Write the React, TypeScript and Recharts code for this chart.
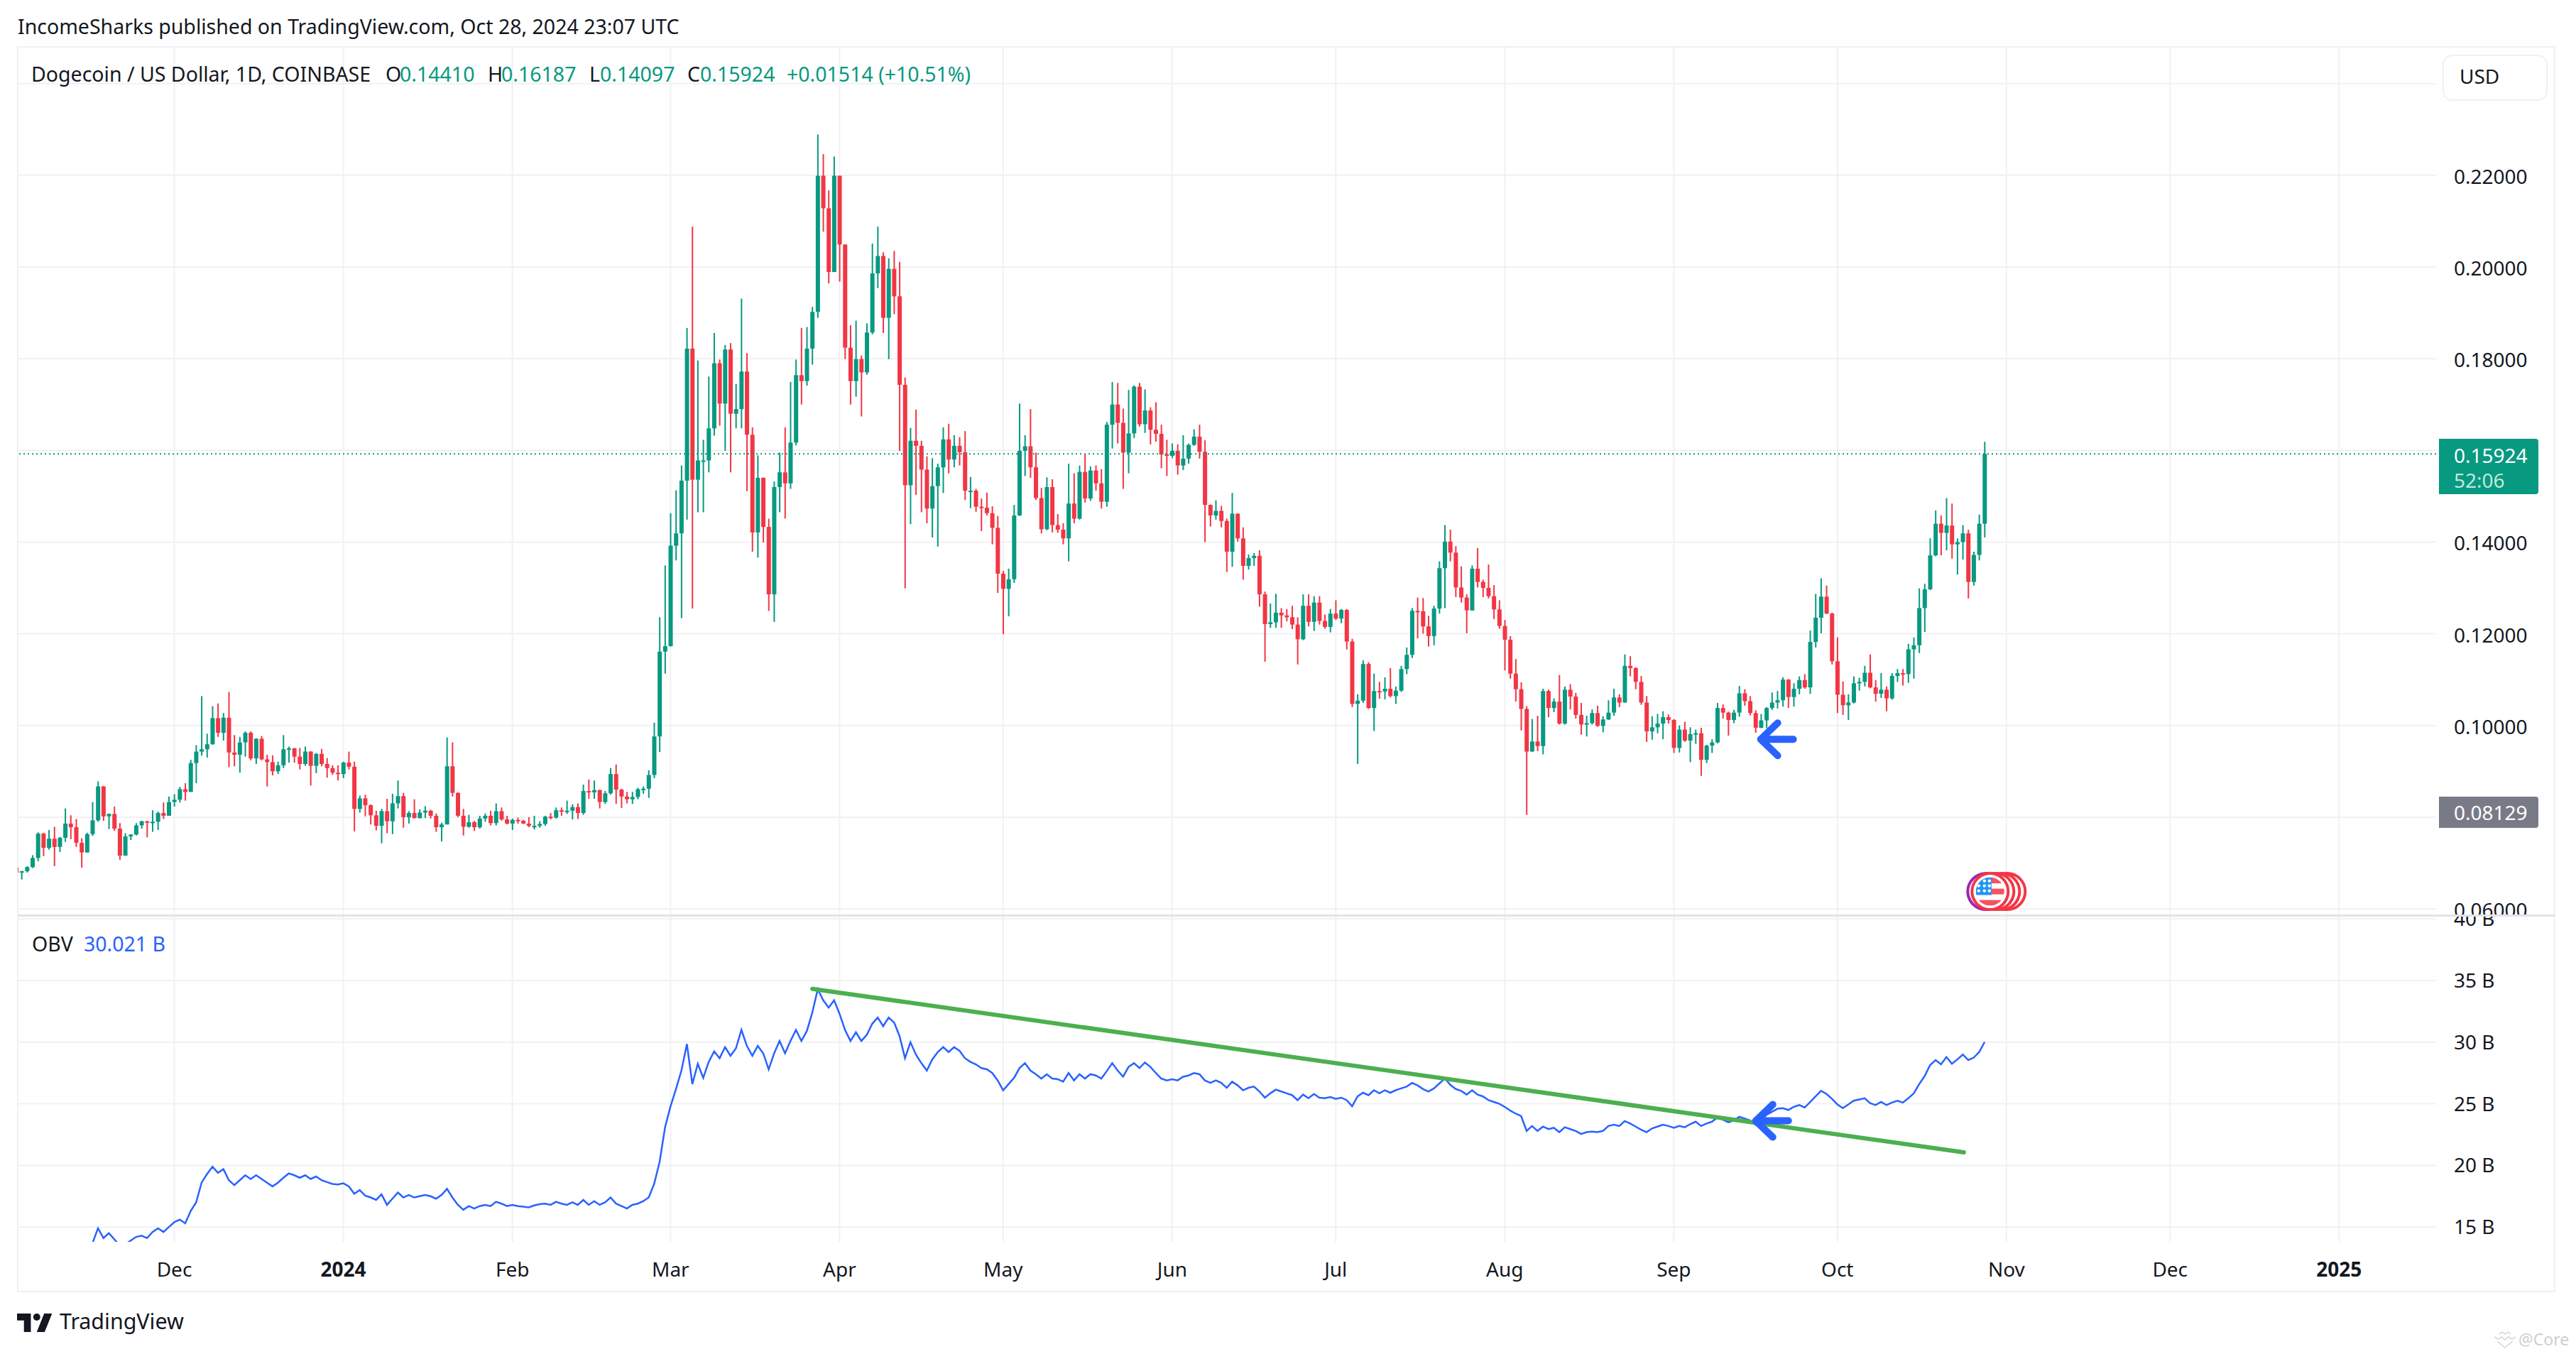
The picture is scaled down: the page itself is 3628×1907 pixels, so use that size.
import {
  Bar,
  CartesianGrid,
  ComposedChart,
  Line,
  ReferenceDot,
  ReferenceLine,
  XAxis,
  YAxis,
} from "recharts";

const FONT = "'Noto Sans', sans-serif";
const UP = "#089981";
const DOWN = "#F23645";
const BLUE = "#2962FF";
const GRID = "#f1f1f3";
const INK = "#131722";

// daily candles, Nov 2 2023 to Oct 28 2024, open is the previous close
const firstOpen = 0.069;
const closes = [
  .0679,
  .0682,.0691,.0711,.0764,.0733,.0753,.0735,.0755,.0786,.0778,
  .0744,.0723,.0763,.0793,.0867,.0802,.0807,.0775,.0716,.0758,
  .0762,.0782,.0791,.0789,.0790,.0809,.0803,.0833,.0838,.0861,
  .0855,.0918,.0943,.0948,.0959,.1016,.0984,.1017,.0941,.0936,
  .0963,.0984,.0928,.0971,.0926,.0920,.0900,.0913,.0948,.0950,
  .0932,.0916,.0943,.0912,.0938,.0916,.0907,.0897,.0894,.0919,
  .0910,.0818,.0841,.0826,.0804,.0781,.0813,.0791,.0830,.0846,
  .0800,.0809,.0798,.0810,.0814,.0803,.0778,.0784,.0911,.0853,
  .0803,.0779,.0789,.0778,.0797,.0803,.0787,.0813,.0795,.0786,
  .0794,.0792,.0786,.0781,.0781,.0785,.0801,.0799,.0815,.0814,
  .0814,.0822,.0809,.0857,.0854,.0859,.0833,.0852,.0894,.0860,
  .0845,.0839,.0844,.0861,.0862,.0892,.0976,.1161,.1173,.1392,
  .1419,.1534,.1822,.1536,.1578,.1578,.1648,.1790,.1702,.1820,
  .1680,.1690,.1772,.1634,.1421,.1540,.1433,.1286,.1520,.1552,
  .1528,.1617,.1764,.1751,.1822,.1902,.2199,.2128,.1989,.2199,
  .2049,.1824,.1751,.1799,.1770,.1857,.1986,.2024,.1889,.1996,
  .1936,.1743,.1524,.1621,.1610,.1558,.1473,.1522,.1563,.1624,
  .1580,.1610,.1596,.1512,.1512,.1477,.1475,.1463,.1431,.1331,
  .1298,.1319,.1458,.1599,.1609,.1563,.1496,.1428,.1520,.1437,
  .1427,.1408,.1484,.1451,.1553,.1495,.1556,.1528,.1488,.1656,
  .1700,.1660,.1595,.1637,.1739,.1657,.1687,.1645,.1636,.1591,
  .1588,.1599,.1567,.1582,.1612,.1630,.1597,.1481,.1458,.1468,
  .1446,.1379,.1462,.1408,.1348,.1365,.1370,.1286,.1221,.1225,
  .1246,.1240,.1236,.1220,.1188,.1261,.1226,.1268,.1228,.1215,
  .1244,.1233,.1252,.1183,.1047,.1054,.1134,.1038,.1075,.1074,
  .1080,.1064,.1076,.1123,.1154,.1250,.1249,.1216,.1195,.1255,
  .1343,.1401,.1377,.1301,.1279,.1251,.1342,.1313,.1300,.1282,
  .1253,.1217,.1187,.1113,.1079,.1036,.0943,.0965,.0955,.1075,
  .1038,.1052,.1004,.1078,.1063,.1023,.1002,.1005,.1027,.0999,
  .1013,.1028,.1061,.1050,.1130,.1125,.1095,.1050,.0987,.0996,
  .1004,.1018,.1012,.0951,.0991,.0967,.0981,.0983,.0925,.0956,
  .0963,.1038,.1028,.1012,.1028,.1070,.1053,.1027,.0995,.1011,
  .1038,.1050,.1055,.1100,.1062,.1080,.1099,.1083,.1182,.1235,
  .1281,.1244,.1140,.1067,.1044,.1050,.1092,.1095,.1115,.1083,
  .1069,.1078,.1059,.1108,.1114,.1112,.1166,.1175,.1256,.1297,
  .1371,.1440,.1420,.1436,.1395,.1400,.1419,.1313,.1372,.1440,
  .15924,
];
const highs = [
  .0690,
  .0683,.0693,.0717,.0767,.0766,.0772,.0779,.0757,.0819,.0804,
  .0796,.0754,.0766,.0833,.0878,.0868,.0808,.0823,.0787,.0765,
  .0763,.0787,.0792,.0792,.0815,.0812,.0832,.0845,.0850,.0866,
  .0874,.0925,.0957,.1064,.0982,.1042,.1048,.1027,.1073,.0979,
  .0975,.0987,.0987,.0972,.0977,.0936,.0935,.0921,.0979,.0954,
  .0951,.0951,.0954,.0944,.0940,.0949,.0929,.0913,.0913,.0921,
  .0943,.0921,.0847,.0849,.0828,.0814,.0818,.0840,.0851,.0880,
  .0853,.0813,.0839,.0817,.0824,.0816,.0808,.0788,.0974,.0963,
  .0854,.0818,.0805,.0792,.0803,.0808,.0814,.0830,.0821,.0803,
  .0797,.0799,.0794,.0800,.0803,.0791,.0803,.0809,.0821,.0821,
  .0836,.0828,.0830,.0871,.0882,.0880,.0860,.0857,.0907,.0915,
  .0862,.0855,.0855,.0864,.0867,.0902,.1006,.1236,.1349,.1463,
  .1513,.1567,.1867,.2088,.1796,.1623,.1761,.1856,.1798,.1830,
  .1834,.1745,.1931,.1812,.1650,.1589,.1541,.1451,.1532,.1595,
  .1650,.1749,.1798,.1867,.1869,.1913,.2289,.2246,.2167,.2241,
  .2199,.2049,.1873,.1883,.1807,.1877,.2051,.2088,.2032,.2019,
  .2035,.2011,.1759,.1649,.1689,.1621,.1587,.1583,.1571,.1650,
  .1658,.1633,.1629,.1642,.1542,.1516,.1495,.1508,.1478,.1457,
  .1337,.1342,.1481,.1702,.1633,.1690,.1595,.1518,.1541,.1537,
  .1461,.1441,.1571,.1550,.1567,.1593,.1565,.1567,.1559,.1662,
  .1749,.1747,.1691,.1732,.1742,.1747,.1733,.1694,.1705,.1656,
  .1623,.1615,.1613,.1633,.1615,.1646,.1656,.1622,.1482,.1491,
  .1479,.1451,.1507,.1462,.1432,.1373,.1376,.1382,.1292,.1266,
  .1287,.1256,.1254,.1261,.1236,.1286,.1286,.1282,.1282,.1242,
  .1254,.1273,.1254,.1254,.1189,.1068,.1142,.1138,.1113,.1095,
  .1105,.1125,.1085,.1130,.1170,.1256,.1279,.1278,.1239,.1261,
  .1358,.1437,.1427,.1391,.1347,.1286,.1349,.1387,.1318,.1351,
  .1306,.1273,.1230,.1195,.1145,.1094,.1042,.1014,.1021,.1080,
  .1078,.1059,.1110,.1085,.1090,.1071,.1049,.1021,.1035,.1043,
  .1020,.1055,.1080,.1068,.1155,.1151,.1127,.1108,.1064,.1020,
  .1025,.1031,.1024,.1014,.1000,.1008,.0996,.0991,.0995,.0958,
  .0970,.1049,.1046,.1030,.1034,.1086,.1079,.1064,.1033,.1025,
  .1040,.1072,.1075,.1105,.1101,.1092,.1107,.1112,.1207,.1287,
  .1321,.1305,.1246,.1192,.1096,.1068,.1107,.1104,.1130,.1155,
  .1099,.1114,.1085,.1114,.1123,.1123,.1178,.1192,.1299,.1309,
  .1408,.1469,.1458,.1496,.1484,.1408,.1437,.1427,.1379,.1460,
  .16187,
];
const lows = [
  .0679,
  .0664,.0679,.0689,.0704,.0715,.0729,.0693,.0724,.0746,.0752,
  .0735,.0690,.0723,.0759,.0790,.0792,.0774,.0770,.0707,.0716,
  .0750,.0760,.0775,.0756,.0768,.0772,.0796,.0803,.0823,.0832,
  .0836,.0855,.0874,.0934,.0930,.0958,.0975,.0967,.0909,.0911,
  .0897,.0932,.0924,.0916,.0924,.0867,.0891,.0894,.0907,.0919,
  .0919,.0904,.0912,.0869,.0896,.0911,.0886,.0892,.0880,.0885,
  .0904,.0769,.0810,.0802,.0784,.0771,.0743,.0765,.0763,.0819,
  .0777,.0786,.0797,.0797,.0798,.0797,.0768,.0747,.0784,.0845,
  .0800,.0760,.0777,.0770,.0775,.0790,.0782,.0782,.0792,.0784,
  .0772,.0786,.0785,.0778,.0773,.0777,.0781,.0795,.0797,.0803,
  .0807,.0795,.0796,.0805,.0840,.0840,.0819,.0829,.0849,.0829,
  .0820,.0830,.0829,.0839,.0851,.0842,.0885,.0942,.1113,.1172,
  .1360,.1234,.1449,.1255,.1465,.1465,.1552,.1632,.1654,.1599,
  .1552,.1648,.1648,.1511,.1379,.1366,.1399,.1250,.1226,.1465,
  .1451,.1516,.1611,.1700,.1741,.1787,.1889,.2077,.1964,.1989,
  .1968,.1799,.1700,.1717,.1674,.1765,.1853,.1954,.1856,.1799,
  .1897,.1599,.1299,.1439,.1503,.1465,.1441,.1410,.1390,.1507,
  .1550,.1563,.1567,.1492,.1474,.1466,.1424,.1458,.1395,.1289,
  .1199,.1238,.1311,.1457,.1544,.1540,.1492,.1419,.1426,.1421,
  .1420,.1395,.1358,.1441,.1449,.1486,.1490,.1512,.1473,.1477,
  .1604,.1615,.1516,.1550,.1627,.1652,.1638,.1613,.1619,.1561,
  .1544,.1583,.1547,.1557,.1571,.1610,.1582,.1400,.1434,.1449,
  .1432,.1335,.1346,.1401,.1318,.1340,.1348,.1259,.1139,.1213,
  .1213,.1213,.1227,.1210,.1133,.1186,.1216,.1206,.1220,.1211,
  .1203,.1230,.1223,.1166,.1040,.0916,.1049,.1036,.0988,.1058,
  .1057,.1061,.1047,.1073,.1112,.1147,.1190,.1200,.1172,.1175,
  .1244,.1256,.1358,.1280,.1268,.1201,.1250,.1301,.1280,.1277,
  .1232,.1211,.1120,.1102,.1052,.0989,.0805,.0943,.0944,.0937,
  .1018,.1029,.1002,.1002,.1035,.1015,.0980,.0976,.1002,.0997,
  .0985,.1012,.1021,.1040,.1050,.1107,.1079,.1045,.0964,.0969,
  .0983,.0970,.1004,.0940,.0941,.0964,.0920,.0960,.0890,.0918,
  .0940,.0961,.1015,.0978,.1005,.1019,.1043,.1022,.0984,.0994,
  .0994,.1034,.1037,.1041,.1038,.1041,.1068,.1080,.1069,.1170,
  .1201,.1243,.1133,.1027,.1023,.1012,.1048,.1076,.1085,.1081,
  .1052,.1060,.1031,.1056,.1095,.1087,.1093,.1102,.1158,.1204,
  .1295,.1369,.1371,.1382,.1364,.1329,.1362,.1277,.1305,.1360,
  .1410,
];

// on balance volume in billions, first reading is Nov 16 2023
const obvStartDay = 14;
const obv = [
  13.7,14.9,14.1,14.5,14.0,13.5,13.6,
  13.9,14.2,14.3,14.1,14.6,14.9,14.6,15.0,15.4,15.6,
  15.3,16.3,17.0,18.6,19.3,19.9,19.4,19.7,18.8,18.4,
  18.8,19.2,18.9,19.2,18.9,18.6,18.3,18.6,19.0,19.35,
  19.2,19.0,19.2,18.9,19.1,18.8,18.65,18.5,18.45,18.55,
  18.3,17.7,18.0,17.55,17.4,17.2,17.65,16.8,17.3,17.8,
  17.4,17.6,17.4,17.5,17.6,17.5,17.3,17.6,18.1,17.4,
  16.8,16.4,16.7,16.5,16.7,16.8,16.7,17.05,16.9,16.7,
  16.8,16.7,16.65,16.6,16.75,16.85,16.9,16.8,17.05,16.9,
  16.8,17.0,16.8,17.2,16.8,17.1,16.8,17.0,17.4,16.9,
  16.7,16.5,16.8,16.9,17.1,17.4,18.5,20.3,23.1,24.8,
  26.2,27.7,29.85,26.6,28.25,27.1,28.4,29.26,28.7,29.6,
  28.9,29.5,31.0,29.7,28.9,29.7,29.1,27.8,29.1,30.1,
  29.1,30.1,31.0,30.1,30.9,32.4,34.3,33.4,32.8,33.4,
  32.3,31.0,30.1,30.8,30.1,30.6,31.5,32.0,31.3,32.0,
  31.6,30.5,28.7,30.0,29.0,28.3,27.7,28.6,29.2,29.6,
  29.2,29.6,29.3,28.7,28.4,28.2,27.9,27.8,27.5,26.9,
  26.1,26.6,27.1,27.9,28.3,27.7,27.4,27.05,27.4,27.05,
  27.0,26.8,27.5,26.9,27.4,27.05,27.4,27.3,27.05,27.65,
  28.3,27.7,27.2,28.0,28.3,27.9,28.35,28.0,27.5,27.05,
  26.9,27.0,26.9,27.2,27.3,27.5,27.4,26.9,26.7,26.9,
  26.7,26.3,26.8,26.5,26.1,26.3,26.4,26.0,25.5,25.85,
  26.15,26.0,25.85,25.7,25.3,25.75,25.45,25.8,25.5,25.45,
  25.55,25.4,25.5,25.3,24.8,25.6,25.9,25.7,26.1,25.85,
  26.1,25.9,26.1,26.25,26.4,26.7,26.5,26.2,26.0,26.25,
  26.65,27.05,26.55,26.2,26.05,25.75,26.1,25.75,25.6,25.3,
  25.15,25.0,24.75,24.45,24.2,24.0,22.8,23.2,22.8,23.15,
  22.95,23.05,22.7,23.1,22.95,22.8,22.55,22.7,22.75,22.7,
  22.8,23.2,23.3,23.2,23.6,23.4,23.15,22.9,22.7,23.0,
  23.15,23.3,23.2,23.05,23.2,23.1,23.35,23.55,23.2,23.4,
  23.55,23.9,23.7,23.5,23.65,23.95,23.8,23.65,23.3,23.65,
  24.1,24.35,24.6,24.65,24.5,24.75,24.9,24.7,25.15,25.6,
  26.05,25.8,25.4,24.95,24.65,24.95,25.25,25.35,25.45,25.05,
  24.9,25.15,24.9,25.1,25.25,25.1,25.45,25.85,26.6,27.25,
  28.15,28.55,28.2,28.8,28.25,28.6,29.0,28.55,28.75,29.2,
  30.02,
];

const monthDays = [29, 60, 91, 120, 151, 181, 212, 242, 273, 304, 334, 365, 395, 426];
const monthLabels = ["Dec", "2024", "Feb", "Mar", "Apr", "May", "Jun", "Jul", "Aug", "Sep", "Oct", "Nov", "Dec", "2025"];
const priceTicks = [0.06, 0.08, 0.1, 0.12, 0.14, 0.16, 0.18, 0.2, 0.22, 0.24];
const obvTicks = [15, 20, 25, 30, 35, 40];
const lastPrice = 0.15924;

const xDomain = [0.284, 443.8];

const candles = closes.map((close, i) => {
  const open = i === 0 ? firstOpen : closes[i - 1];
  const high = Math.max(highs[i], open, close);
  const low = Math.min(lows[i], open, close);
  return { day: i, open, close, range: [low, high] };
});

const obvRows = closes.map((_, i) => ({
  day: i,
  obv: i >= obvStartDay ? obv[i - obvStartDay] : null,
}));

function Candle(props: any) {
  const { x, y, width, height, payload } = props;
  const [low, high] = payload.range;
  const perUnit = height / (high - low);
  const top = y + (high - Math.max(payload.open, payload.close)) * perUnit;
  const bottom = y + (high - Math.min(payload.open, payload.close)) * perUnit;
  const color = payload.close >= payload.open ? UP : DOWN;
  return (
    <g>
      <rect x={x + width / 2 - 1} y={y} width={2} height={height} fill={color} />
      <rect x={x} y={top} width={width} height={Math.max(bottom - top, 2)} fill={color} />
    </g>
  );
}

function Arrow({ cx, cy }: any) {
  return (
    <path
      d={`M${cx + 50} ${cy}H${cx + 4}M${cx + 28} ${cy - 23}L${cx + 4} ${cy}L${cx + 28} ${cy + 23}`}
      fill="none"
      stroke={BLUE}
      strokeWidth={10}
      strokeLinecap="round"
      strokeLinejoin="round"
    />
  );
}

const flagRows = [-15, -8, -1];
const flagCols = [-16, -8, -1];

function Flag({ cx, cy }: any) {
  return (
    <g>
      {[24, 16, 8].map((dx) => (
        <circle key={dx} cx={cx + dx} cy={cy} r={25.5} fill="#fff" stroke={DOWN} strokeWidth={4} />
      ))}
      <circle cx={cx - 6} cy={cy} r={25.5} fill="#fff" stroke="#9c27b0" strokeWidth={4} />
      <circle cx={cx} cy={cy} r={25.5} fill="#fff" stroke={DOWN} strokeWidth={4} />
      <clipPath id="flagClip">
        <circle cx={cx} cy={cy} r={20} />
      </clipPath>
      <g clipPath="url(#flagClip)">
        <rect x={cx - 20} y={cy - 20} width={40} height={8.5} fill="#f7525f" />
        <rect x={cx - 20} y={cy - 4} width={40} height={8} fill="#f7525f" />
        <rect x={cx - 20} y={cy + 12} width={40} height={8} fill="#f7525f" />
        <rect x={cx - 20} y={cy - 20} width={22} height={25} fill="#2196f3" />
        {flagCols.map((dx) =>
          flagRows.map((dy) => (
            <circle key={`${dx}${dy}`} cx={cx + dx} cy={cy + dy} r={2.2} fill="#fff" />
          )),
        )}
      </g>
    </g>
  );
}

function MonthTick({ x, y, payload }: any) {
  const label = monthLabels[monthDays.indexOf(payload.value)];
  return (
    <text
      x={x}
      y={y + 30}
      textAnchor="middle"
      dominantBaseline="central"
      fill={INK}
      fontFamily={FONT}
      fontSize={28}
      fontWeight={/\d/.test(label) ? 700 : 400}
    >
      {label}
    </text>
  );
}

function NoTick() {
  return <g />;
}

function Label({ x, y, color = INK, size = 28.5, children }: any) {
  return (
    <div
      style={{
        position: "absolute",
        left: x,
        top: y,
        transform: "translateY(-50%)",
        color,
        fontSize: size,
        lineHeight: 1,
        whiteSpace: "pre",
      }}
    >
      {children}
    </div>
  );
}

const yTick = { fill: INK, fontSize: 28, fontFamily: FONT, textAnchor: "start", dy: 2 };
const obvTick = { ...yTick, dy: 0 };

export default function App() {
  return (
    <div
      style={{
        position: "absolute",
        left: 0,
        top: 0,
        width: 3628,
        height: 1907,
        background: "#fff",
        fontFamily: FONT,
        overflow: "hidden",
      }}
    >
      <div
        style={{
          position: "absolute",
          left: 24,
          top: 65,
          width: 3575,
          height: 1755,
          boxSizing: "border-box",
          border: `2px solid ${GRID}`,
        }}
      />

      <div style={{ position: "absolute", left: 25, top: 66 }}>
        <ComposedChart
          width={3573}
          height={1224}
          data={candles}
          margin={{ top: 0, right: 0, bottom: 0, left: 0 }}
        >
          <CartesianGrid stroke={GRID} strokeWidth={2} syncWithTicks />
          <XAxis
            dataKey="day"
            type="number"
            domain={xDomain}
            ticks={monthDays}
            interval={0}
            allowDataOverflow
            height={1}
            axisLine={false}
            tickLine={false}
            tick={NoTick}
          />
          <YAxis
            orientation="right"
            width={167}
            domain={[0.05861, 0.24801]}
            ticks={priceTicks}
            interval={0}
            axisLine={false}
            tickLine={false}
            tickSize={0}
            tickMargin={25}
            tick={yTick}
            tickFormatter={(v: number) => v.toFixed(5)}
          />
          <Bar dataKey="range" barSize={6} shape={Candle} isAnimationActive={false} />
          <ReferenceLine y={lastPrice} stroke={UP} strokeWidth={2} strokeDasharray="2 4" />
          <ReferenceDot x={319.4} y={0.09698} r={1} ifOverflow="visible" shape={Arrow} />
          <ReferenceDot x={362} y={0.06378} r={1} ifOverflow="visible" shape={Flag} />
        </ComposedChart>
      </div>

      <div
        style={{
          position: "absolute",
          left: 25,
          top: 1288,
          width: 3573,
          height: 3,
          background: "#e0e3eb",
        }}
      />

      <div style={{ position: "absolute", left: 25, top: 1291 }}>
        <ComposedChart
          width={3573}
          height={528}
          data={obvRows}
          margin={{ top: 0, right: 0, bottom: 0, left: 0 }}
        >
          <CartesianGrid stroke={GRID} strokeWidth={2} syncWithTicks />
          <XAxis
            dataKey="day"
            type="number"
            domain={xDomain}
            ticks={monthDays}
            interval={0}
            allowDataOverflow
            height={70}
            axisLine={false}
            tickLine={false}
            tick={MonthTick}
          />
          <YAxis
            orientation="right"
            width={167}
            domain={[13.8, 40.19]}
            ticks={obvTicks}
            interval={0}
            allowDataOverflow
            axisLine={false}
            tickLine={false}
            tickSize={0}
            tickMargin={25}
            tick={obvTick}
            tickFormatter={(v: number) => `${v} B`}
          />
          <Line
            dataKey="obv"
            stroke={BLUE}
            strokeWidth={2.5}
            dot={false}
            isAnimationActive={false}
          />
          <ReferenceLine
            segment={[
              { x: 146, y: 34.33 },
              { x: 357.2, y: 21.06 },
            ]}
            stroke="#4caf50"
            strokeWidth={6}
            strokeLinecap="round"
          />
          <ReferenceDot x={318.5} y={23.62} r={1} ifOverflow="visible" shape={Arrow} />
        </ComposedChart>
      </div>

      <Label x={25} y={37}>IncomeSharks published on TradingView.com, Oct 28, 2024 23:07 UTC</Label>
      <Label x={44} y={104}>Dogecoin / US Dollar, 1D, COINBASE</Label>
      <Label x={543} y={104}>O</Label>
      <Label x={563} y={104} color={UP}>0.14410</Label>
      <Label x={687} y={104}>H</Label>
      <Label x={706} y={104} color={UP}>0.16187</Label>
      <Label x={830} y={104}>L</Label>
      <Label x={845} y={104} color={UP}>0.14097</Label>
      <Label x={968} y={104}>C</Label>
      <Label x={986} y={104} color={UP}>0.15924</Label>
      <Label x={1108} y={104} color={UP}>+0.01514 (+10.51%)</Label>
      <Label x={45} y={1329}>OBV</Label>
      <Label x={118} y={1329} color={BLUE}>30.021 B</Label>

      <div
        style={{
          position: "absolute",
          left: 3440,
          top: 77,
          width: 148,
          height: 65,
          boxSizing: "border-box",
          background: "#fff",
          border: `2px solid ${GRID}`,
          borderRadius: 14,
        }}
      />
      <Label x={3464} y={107} size={28}>USD</Label>

      <div
        style={{
          position: "absolute",
          left: 3435,
          top: 618,
          width: 140,
          height: 78,
          background: UP,
          borderRadius: "0 4px 4px 0",
        }}
      />
      <Label x={3456} y={641} color="#fff" size={28}>0.15924</Label>
      <Label x={3456} y={676} color="#c0e8de" size={28}>52:06</Label>
      <div
        style={{
          position: "absolute",
          left: 3435,
          top: 1122,
          width: 140,
          height: 44,
          background: "#787b86",
          borderRadius: "0 4px 4px 0",
        }}
      />
      <Label x={3456} y={1144} color="#fff" size={28}>0.08129</Label>

      <svg style={{ position: "absolute", left: 24, top: 1850 }} width={50} height={26} viewBox="0 0 36 18.7">
        <path d="M14 18.7H7V7H0V0h14v18.7zM28 18.7h-8L27.5 0h8L28 18.7z" fill={INK} />
        <circle cx={20} cy={3.6} r={3.6} fill={INK} />
      </svg>
      <Label x={84} y={1861} size={30.4}>TradingView</Label>

      <svg
        style={{ position: "absolute", left: 3512, top: 1874 }}
        width={32}
        height={25}
        viewBox="0 0 32 25"
        fill="none"
        stroke="#d4d4d8"
        strokeWidth={1.5}
      >
        <path d="M8 5l4-3 4 3 4-3 4 3M1 9l5 3 5-3 5 4 5-4 5 3 5-3M5 15l11 9 11-9" />
      </svg>
      <Label x={3547} y={1886} color="#cfcfd3" size={23}>@Core</Label>
    </div>
  );
}
